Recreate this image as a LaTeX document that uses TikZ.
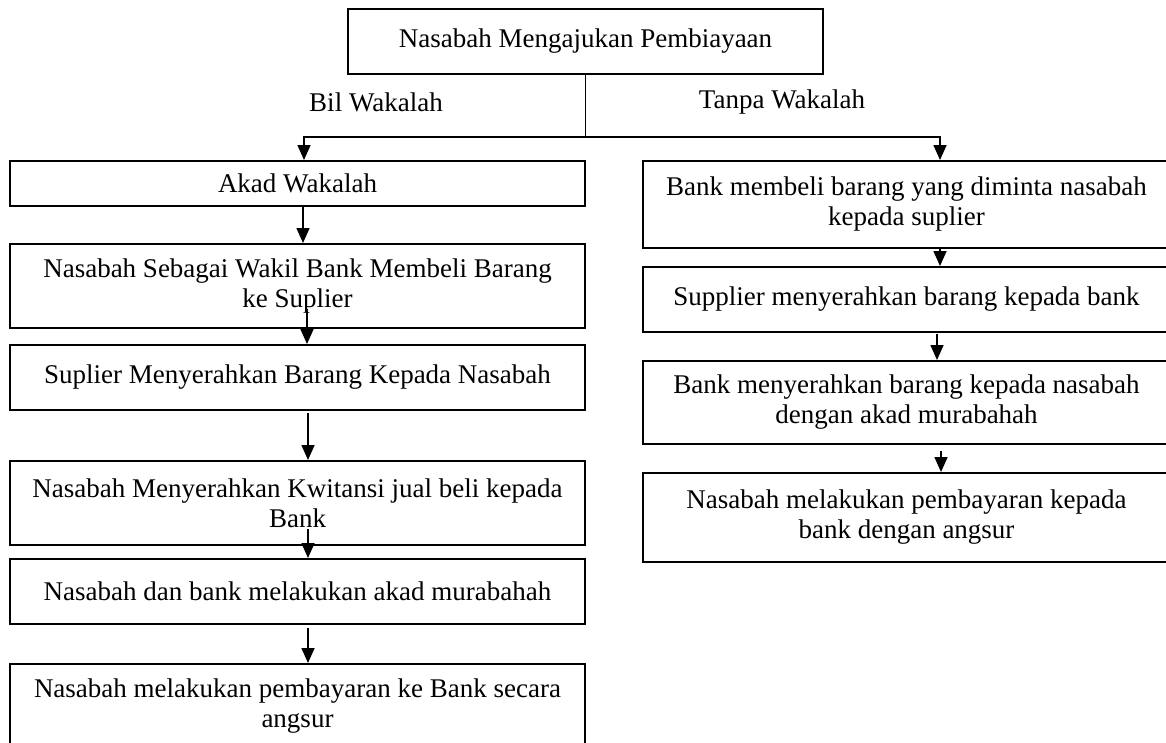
\documentclass[tikz,border=0pt]{standalone}
\usepackage{fontspec}
\setmainfont{Liberation Serif}
\usetikzlibrary{arrows.meta,calc}
\begin{document}
\begin{tikzpicture}[x=1pt,y=-1pt,
  box/.style={draw=black,line width=2pt,inner sep=0pt,align=center,
    font=\fontsize{27pt}{30pt}\selectfont},
  lbl/.style={inner sep=0pt,font=\fontsize{27pt}{30pt}\selectfont},
  conn/.style={draw=black,line width=1.6pt},
  arr/.style={conn,-{Triangle[length=15pt,width=13pt]}}]
\clip (0,0) rectangle (1166,742);
\fill[white] (0,0) rectangle (1166,742);
% top
\node[box,minimum width=475pt,minimum height=65pt] (top) at (585.5,41.5) {Nasabah Mengajukan Pembiayaan};
\node[lbl] (bil) at (376,102) {Bil Wakalah};
\node[lbl] (tanpa) at (782,102) {Tanpa Wakalah};
% left column
\node[box,minimum width=575pt,minimum height=45pt] (L1) at (297.5,183.5) {Akad Wakalah};
\node[box,minimum width=575pt,minimum height=84pt] (L2) at (297.5,286) {Nasabah Sebagai Wakil Bank Membeli Barang\\ke Suplier};
\node[box,minimum width=575pt,minimum height=65pt] (L3) at (297.5,377.5) {Suplier Menyerahkan Barang Kepada Nasabah};
\node[box,minimum width=575pt,minimum height=84pt] (L4) at (297.5,503) {Nasabah Menyerahkan Kwitansi jual beli kepada\\Bank};
\node[box,minimum width=575pt,minimum height=65pt] (L5) at (297.5,591.5) {Nasabah dan bank melakukan akad murabahah};
\node[box,minimum width=575pt,minimum height=84pt] (L6) at (297.5,706) {Nasabah melakukan pembayaran ke Bank secara\\angsur};
% right column
\node[box,minimum width=527pt,minimum height=87pt] (R1) at (906.5,204.5) {Bank membeli barang yang diminta nasabah\\kepada suplier};
\node[box,minimum width=527pt,minimum height=65pt] (R2) at (906.5,299.5) {Supplier menyerahkan barang kepada bank};
\node[box,minimum width=527pt,minimum height=83pt] (R3) at (906.5,402.5) {Bank menyerahkan barang kepada nasabah\\dengan akad murabahah};
\node[box,minimum width=527pt,minimum height=89pt] (R4) at (906.5,517.5) {Nasabah melakukan pembayaran kepada\\bank dengan angsur};
% split
\coordinate (jl) at (304,137);
\coordinate (jr) at (940,137);
\draw[conn] (top.south) -- (top.south |- jl);
\draw[arr] (top.south |- jl) -- (jl) -- (jl |- L1.north);
\draw[arr] (top.south |- jr) -- (jr) -- (jr |- R1.north);
% left arrows
\draw[arr] ([xshift=5.5pt]L1.south) -- ([xshift=5.5pt]L2.north);
\draw[arr] ([xshift=9.5pt,yshift=20pt]L2.south) -- ([xshift=9.5pt]L3.north);
\draw[arr] ([xshift=10.5pt,yshift=-2pt]L3.south) -- ([xshift=10.5pt]L4.north);
\draw[arr] ([xshift=10.5pt,yshift=17pt]L4.south) -- ([xshift=10.5pt]L5.north);
\draw[arr] ([xshift=10.5pt,yshift=-3pt]L5.south) -- ([xshift=10.5pt]L6.north);
% right arrows
\draw[arr] ([xshift=33.5pt]R1.south) -- ([xshift=33.5pt]R2.north);
\draw[arr] ([xshift=30.5pt,yshift=-1pt]R2.south) -- ([xshift=30.5pt]R3.north);
\draw[arr] ([xshift=34.5pt,yshift=-6pt]R3.south) -- ([xshift=34.5pt]R4.north);
\end{tikzpicture}
\end{document}
